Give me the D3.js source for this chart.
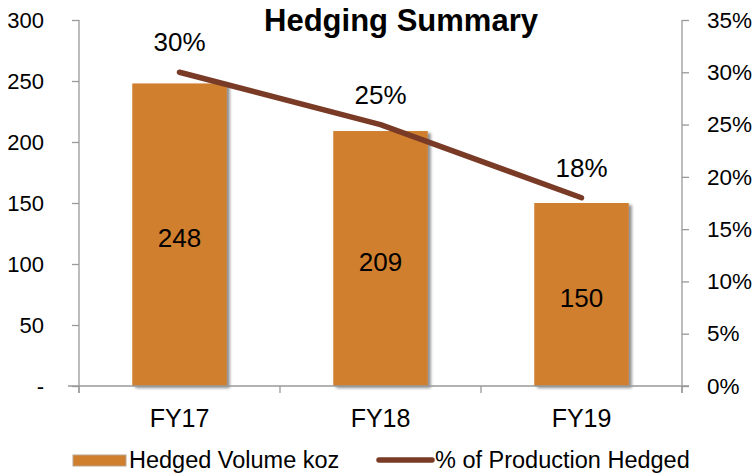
<!DOCTYPE html>
<html>
<head>
<meta charset="utf-8">
<script src="https://cdn.jsdelivr.net/npm/d3@7"></script>
<style>
  body { margin: 0; background: #fff; }
  svg { font-family: "Liberation Sans", Arial, sans-serif; }
</style>
</head>
<body>
<svg width="753" height="473"></svg>
<script>
// chart data
var years = ["FY17", "FY18", "FY19"];
var volume = [248, 209, 150];          // Hedged Volume koz
var pctHedged = [0.30, 0.25, 0.18];    // % of Production Hedged
var leftTicks = [0, 50, 100, 150, 200, 250, 300];
var rightTicks = [0, 0.05, 0.10, 0.15, 0.20, 0.25, 0.30, 0.35];

var svg = d3.select("svg");
// plot box (note: "top" is taken by window.top, so use plot* names)
var plotL = 79, plotR = 682, plotT = 20, plotB = 386;

var x = d3.scaleBand().domain(years).range([plotL, plotR]).paddingInner(0.53).paddingOuter(0.265);
var band = d3.scaleBand().domain(years).range([plotL, plotR]);
var yL = d3.scaleLinear().domain([0, 300]).range([plotB, plotT]);
var yR = d3.scaleLinear().domain([0, 0.35]).range([plotB, plotT]);

var defs = svg.append("defs");
var f = defs.append("filter").attr("id", "shadow").attr("x", "-20%").attr("y", "-20%").attr("width", "150%").attr("height", "150%");
f.append("feGaussianBlur").attr("in", "SourceAlpha").attr("stdDeviation", 1.6);
f.append("feOffset").attr("dx", 3).attr("dy", 1.5).attr("result", "blur");
f.append("feComponentTransfer").append("feFuncA").attr("type", "linear").attr("slope", 0.45);
var m = f.append("feMerge");
m.append("feMergeNode");
m.append("feMergeNode").attr("in", "SourceGraphic");

var axisColor = "#999";

// bars
svg.append("g").selectAll("rect").data(years).enter().append("rect")
  .attr("x", d => x(d))
  .attr("width", x.bandwidth())
  .attr("y", (d, i) => yL(volume[i]))
  .attr("height", (d, i) => plotB - yL(volume[i]))
  .attr("fill", "#D07F2F")
  .attr("filter", "url(#shadow)");

// axes
var gL = svg.append("g").attr("transform", "translate(" + plotL + ",0)")
  .call(d3.axisLeft(yL).tickValues(leftTicks).tickSize(7).tickPadding(30)
    .tickFormat(d => d === 0 ? "-" : d));
var gR = svg.append("g").attr("transform", "translate(" + plotR + ",0)")
  .call(d3.axisRight(yR).tickValues(rightTicks).tickSize(7).tickPadding(18)
    .tickFormat(d3.format(".0%")));
var gX = svg.append("g").attr("transform", "translate(0," + plotB + ")")
  .call(d3.axisBottom(band).tickSize(0).tickPadding(20));

// category separators on x axis
svg.append("g").selectAll("line").data(years.concat(["end"])).enter().append("line")
  .attr("x1", (d, i) => i < years.length ? band(d) : plotR)
  .attr("x2", (d, i) => i < years.length ? band(d) : plotR)
  .attr("y1", plotB).attr("y2", plotB + 7)
  .attr("stroke", axisColor).attr("stroke-width", 1.3);

[gL, gR, gX].forEach(g => {
  g.attr("font-family", "Liberation Sans, Arial, sans-serif");
  g.select(".domain").attr("stroke", axisColor).attr("stroke-width", 1.3);
  g.selectAll(".tick line").attr("stroke", axisColor).attr("stroke-width", 1.3);
  g.selectAll("text").attr("fill", "#000");
});
gL.attr("font-size", 22);
gR.attr("font-size", 22.5);
gX.attr("font-size", 25);
gL.select(".domain").attr("d", "M0," + plotT + "V" + (plotB + 7));
gR.select(".domain").attr("d", "M0," + plotT + "V" + (plotB + 7));
gX.select(".domain").attr("d", "M" + (plotL - 11) + ",0H" + (plotR + 7));
gL.selectAll(".tick text").attr("x", -35);
gX.selectAll(".tick text").attr("y", 41).attr("dy", 0);

// line
var cx = d => band(d) + band.bandwidth() / 2;
var line = d3.line().x(d => cx(d)).y((d, i) => yR(pctHedged[i]));
svg.append("path").datum(years)
  .attr("d", line)
  .attr("fill", "none")
  .attr("stroke", "#7A3B26")
  .attr("stroke-width", 5.5)
  .attr("stroke-linecap", "round")
  .attr("stroke-linejoin", "round");

// labels
svg.append("g").selectAll("text").data(years).enter().append("text")
  .attr("x", d => cx(d))
  .attr("y", (d, i) => yR(pctHedged[i]) - 21)
  .attr("text-anchor", "middle")
  .attr("font-size", 26)
  .text((d, i) => Math.round(pctHedged[i] * 100) + "%");

svg.append("g").selectAll("text").data(years).enter().append("text")
  .attr("x", d => cx(d))
  .attr("y", (d, i) => (yL(volume[i]) + plotB) / 2 + 12)
  .attr("text-anchor", "middle")
  .attr("font-size", 26)
  .text((d, i) => volume[i]);

// title
svg.append("text").attr("x", 401).attr("y", 31)
  .attr("text-anchor", "middle")
  .attr("font-size", 31).attr("font-weight", "bold")
  .text("Hedging Summary");

// legend
var lg = svg.append("g");
lg.append("rect").attr("x", 73).attr("y", 455).attr("width", 53).attr("height", 11)
  .attr("fill", "#D07F2F").attr("stroke", "#b8a690").attr("stroke-width", 1);
lg.append("text").attr("x", 129).attr("y", 468).attr("font-size", 23.5).text("Hedged Volume koz");
lg.append("line").attr("x1", 379).attr("x2", 432).attr("y1", 460).attr("y2", 460)
  .attr("stroke", "#7A3B26").attr("stroke-width", 5.5).attr("stroke-linecap", "round");
lg.append("text").attr("x", 435).attr("y", 468).attr("font-size", 23.5).text("% of Production Hedged");
</script>
</body>
</html>
